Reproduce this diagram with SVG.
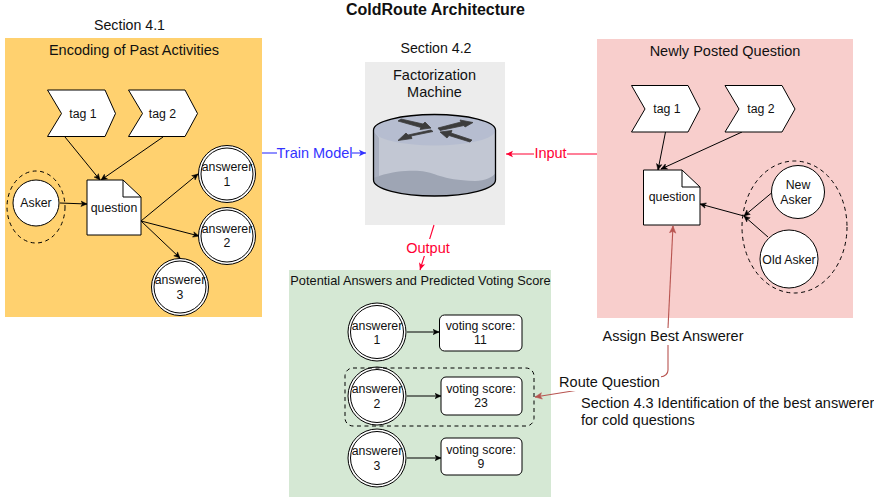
<svg xmlns="http://www.w3.org/2000/svg" width="874" height="499" viewBox="0 0 874 499">
<style>
text{font-family:"Liberation Sans",Arial,sans-serif;font-size:12.3px;fill:#111;text-anchor:middle}
.h{font-size:14.5px}
.shape{fill:#fff;stroke:#000;stroke-width:1}
.dash{fill:none;stroke:#000;stroke-width:1;stroke-dasharray:4 3.5}
.c{fill:none;stroke:#000;stroke-width:1;marker-end:url(#a)}
.blue{fill:none;stroke:#3333ff;stroke-width:1.100}
.red{fill:none;stroke:#ff0033;stroke-width:1.100}
.br{fill:none;stroke:#b85450;stroke-width:1.100}
.arr{fill:#3c3c3c;stroke:#3c3c3c;stroke-width:.8}
</style>
<defs>
<marker id="a" markerWidth="8" markerHeight="8" refX="6.500" refY="3.500" orient="auto" markerUnits="userSpaceOnUse"><path d="M0.500 0.800L6.500 3.500L0.500 6.200L2 3.500Z" fill="#000" stroke="#000" stroke-width=".5"/></marker>
<marker id="ab" markerWidth="9" markerHeight="8" refX="7.500" refY="4" orient="auto" markerUnits="userSpaceOnUse"><path d="M0.500 0.800L7.500 4L0.500 7.200L2.200 4Z" fill="#b85450" stroke="#b85450" stroke-width=".5"/></marker>
<marker id="ablue" markerWidth="9" markerHeight="8" refX="7.500" refY="4" orient="auto" markerUnits="userSpaceOnUse"><path d="M0.500 0.800L7.500 4L0.500 7.200L2.200 4Z" fill="#3333ff"/></marker>
<marker id="ared" markerWidth="9" markerHeight="8" refX="7.500" refY="4" orient="auto" markerUnits="userSpaceOnUse"><path d="M0.500 0.800L7.500 4L0.500 7.200L2.200 4Z" fill="#ff0033"/></marker>
</defs>
<rect width="874" height="499" fill="#fff"/>
<text x="435.500" y="15" style="font-weight:bold;font-size:16px">ColdRoute Architecture</text>
<text x="129.500" y="30" style="font-size:14.200px">Section 4.1</text>
<text x="436" y="53" style="font-size:14.200px">Section 4.2</text>

<g id="panel-past">
<rect x="5" y="38" width="257" height="279" fill="#ffd16f"/>
<text x="134" y="55" class="h">Encoding of Past Activities</text>
</g>
<g id="panel-fm">
<rect x="365" y="62" width="140" height="163" fill="#ececec"/>
<text x="434.500" y="80" class="h">Factorization</text>
<text x="434.500" y="97" class="h">Machine</text>
</g>
<g id="panel-new">
<rect x="597" y="39" width="256" height="279" fill="#f8cecc"/>
<text x="725" y="56" class="h">Newly Posted Question</text>
</g>
<g id="panel-scores">
<rect x="289" y="270" width="262" height="227" fill="#d5e8d4"/>
<text x="420.500" y="285" style="font-size:12.800px">Potential Answers and Predicted Voting Score</text>
</g>

<g id="connectors">
<path class="c" d="M65 137L100 180"/>
<path class="c" d="M163 137L101 180"/>
<path class="c" d="M60 203L87 204"/>
<path class="c" d="M141 221L198 174"/>
<path class="c" d="M141 221L199 236"/>
<path class="c" d="M141 221L180 258"/>
<path class="c" d="M665.500 132L658 170"/>
<path class="c" d="M742 132L661 169"/>
<path class="c" d="M771.500 193L744 216"/>
<path class="c" d="M768 237L744 216"/>
<path class="c" d="M744 216L700 204"/>
<path class="c" d="M407 332L439 332"/>
<path class="c" d="M407 396L441 396"/>
<path class="c" d="M407 458L441 458"/>
<path class="blue" d="M262 153H277"/>
<path class="blue" d="M352 153H366" marker-end="url(#ablue)"/>
<path class="red" d="M597 154H506" marker-end="url(#ared)"/>
<path class="red" d="M434 225L420 270" marker-end="url(#ared)"/>
<path class="br" d="M668 345L668 370Q668 376 660 377L535 397" marker-end="url(#ab)"/>
<path class="br" d="M668 328L673 226" marker-end="url(#ab)"/>
</g>

<g id="label-train"><rect x="277" y="145" width="75" height="16" fill="#fff"/><text x="314.500" y="158" class="h" style="fill:#3333ff">Train Model</text></g>
<g id="label-input"><rect x="534" y="146" width="33" height="16" fill="#fff"/><text x="550.500" y="158" class="h" style="fill:#ff0033">Input</text></g>
<g id="label-output"><rect x="405" y="239" width="46" height="17" fill="#fff"/><text x="428" y="253" class="h" style="fill:#ff0033">Output</text></g>
<g id="label-route"><rect x="558" y="374" width="103" height="17" fill="#fff"/><text x="609.500" y="387" class="h">Route Question</text></g>
<g id="label-assign"><rect x="602" y="328" width="142" height="17" fill="#fff"/><text x="673" y="341" class="h">Assign Best Answerer</text></g>
<g id="label-section43"><text x="581" y="408" class="h" style="text-anchor:start">Section 4.3 Identification of the best answerer</text><text x="581" y="425" class="h" style="text-anchor:start">for cold questions</text></g>

<g id="router">
<path d="M373.500 130A61 15.500 0 0 1 495.500 130V180A61 16 0 0 1 373.500 180Z" fill="#c2c7d3"/>
<path d="M373.500 130L379 138V176L373.500 180Z" fill="#a9afbf"/>
<path d="M373.500 178L379 176C395 171 408 170.500 420 171C435 172 440 180 475 181C485 181 493 177 495.500 173V180A61 16 0 0 1 373.500 180Z" fill="#9ea5b4"/>
<ellipse cx="434.500" cy="130" rx="61" ry="15.500" fill="#b6bdd0"/>
<path d="M373.500 130A61 15.500 0 0 1 495.500 130V180A61 16 0 0 1 373.500 180Z" fill="none" stroke="#000" stroke-width="1.300"/>
<polygon class="arr" points="398,121 401,119 423,124 425,122 431,128 420,129.500 421,127.500"/>
<polygon class="arr" points="438,128 461,122 460,120 473,122.500 465,127 464,125.500 440,130.500"/>
<polygon class="arr" points="433,131.500 411,136 412,138.500 398,140.500 406,133 408,135 431,130"/>
<polygon class="arr" points="440,132 452,130.500 451,133 472,140 470,142 449,135.500 447,138"/>
</g>

<g id="tag1-left"><polygon class="shape" points="47.500,90 105,90 115.500,113.500 105,136.500 47.500,136.500 61.500,113.500"/><text x="83" y="118">tag 1</text></g>
<g id="tag2-left"><polygon class="shape" points="128.500,90 185,90 197.500,113.500 185,136.500 128.500,136.500 142.500,113.500"/><text x="162.500" y="118">tag 2</text></g>
<g id="asker"><ellipse class="dash" cx="36" cy="207" rx="29" ry="36"/><circle class="shape" cx="36" cy="203" r="23"/><text x="36" y="207">Asker</text></g>
<g id="question-left"><path class="shape" d="M87 180H123L141 197V235H87Z"/><path class="shape" d="M123 180V197H141" style="fill:none"/><text x="114" y="212">question</text></g>
<g id="answerer1-left"><circle class="shape" cx="227" cy="174" r="28.500"/><circle class="shape" cx="227" cy="174" r="26"/><text x="227" y="171">answerer</text><text x="227" y="186">1</text></g>
<g id="answerer2-left"><circle class="shape" cx="227" cy="236" r="28.500"/><circle class="shape" cx="227" cy="236" r="26"/><text x="227" y="233">answerer</text><text x="227" y="247">2</text></g>
<g id="answerer3-left"><circle class="shape" cx="180" cy="287" r="28.500"/><circle class="shape" cx="180" cy="287" r="26"/><text x="180" y="284">answerer</text><text x="180" y="299">3</text></g>

<g id="tag1-right"><polygon class="shape" points="631.500,85.500 688,85.500 700,109 688,132 631.500,132 645,109"/><text x="667" y="113">tag 1</text></g>
<g id="tag2-right"><polygon class="shape" points="725,85.500 782,85.500 795,109 782,132 725,132 739,109"/><text x="761" y="113">tag 2</text></g>
<g id="question-right"><path class="shape" d="M643.500 170H682L700 187V225H643.500Z"/><path class="shape" d="M682 170V187H700" style="fill:none"/><text x="672" y="201">question</text></g>
<g id="asker-group"><ellipse class="dash" cx="794.500" cy="227" rx="52.500" ry="66"/></g>
<g id="new-asker"><circle class="shape" cx="798" cy="192" r="26.500"/><text x="798" y="189">New</text><text x="796" y="204">Asker</text></g>
<g id="old-asker"><circle class="shape" cx="789" cy="259" r="29"/><text x="789" y="264">Old Asker</text></g>

<g id="answerer1"><circle class="shape" cx="377" cy="332" r="29"/><circle class="shape" cx="377" cy="332" r="26.500"/><text x="377" y="330">answerer</text><text x="377" y="344">1</text></g>
<g id="answerer2"><circle class="shape" cx="377" cy="396" r="29"/><circle class="shape" cx="377" cy="396" r="26.500"/><text x="377" y="393">answerer</text><text x="377" y="408">2</text></g>
<g id="answerer3"><circle class="shape" cx="377" cy="458" r="29"/><circle class="shape" cx="377" cy="458" r="26.500"/><text x="377" y="455">answerer</text><text x="377" y="470">3</text></g>
<g id="score1"><rect class="shape" x="439.500" y="315" width="82.500" height="36" rx="5"/><text x="480.500" y="330">voting score:</text><text x="480.500" y="344">11</text></g>
<g id="score2"><rect class="shape" x="441" y="377" width="81" height="38" rx="5"/><text x="481" y="393">voting score:</text><text x="481" y="407">23</text></g>
<g id="score3"><rect class="shape" x="441" y="438" width="81" height="37" rx="5"/><text x="481" y="454">voting score:</text><text x="481" y="468">9</text></g>
<g id="best-highlight"><rect class="dash" x="345" y="368" width="189" height="58" rx="8"/></g>
</svg>
